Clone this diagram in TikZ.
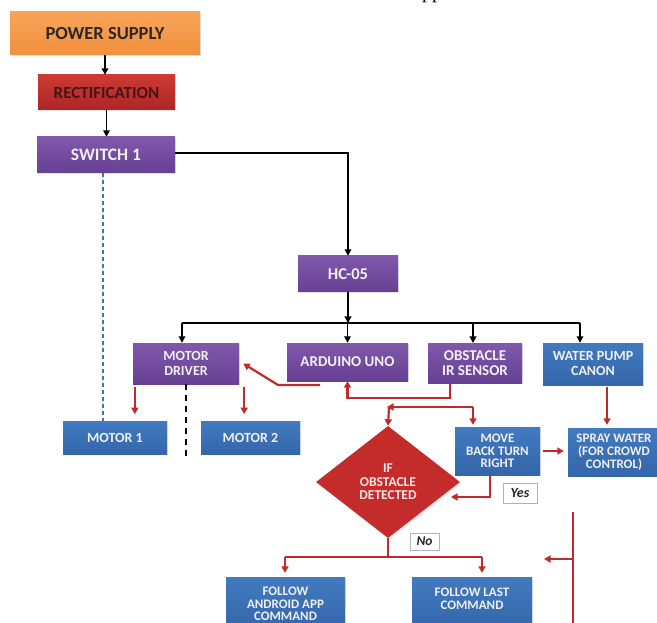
\documentclass[tikz,border=0pt]{standalone}
\usepackage{fontspec}
\setmainfont{Carlito}
\newfontfamily\ppserif{Liberation Serif}
\usetikzlibrary{arrows.meta,shapes.geometric,shadows}
\definecolor{cOrangeT}{RGB}{248,163,88}
\definecolor{cOrangeB}{RGB}{240,145,62}
\definecolor{cRedT}{RGB}{205,58,52}
\definecolor{cRedB}{RGB}{172,38,38}
\definecolor{cPurT}{RGB}{128,88,172}
\definecolor{cPurB}{RGB}{102,64,146}
\definecolor{cBluT}{RGB}{66,122,192}
\definecolor{cBluB}{RGB}{52,102,170}
\definecolor{cArrow}{RGB}{192,42,42}
\definecolor{cDia}{RGB}{196,44,44}
\definecolor{cDash}{RGB}{70,110,200}
\definecolor{cTxtDark}{RGB}{45,40,40}
\definecolor{cTxtMaroon}{RGB}{70,20,20}
\begin{document}
\begin{tikzpicture}[x=1pt,y=-1pt,
  fs/.style n args={2}{font=\bfseries\fontsize{#1}{#2}\selectfont},
  box/.style={rectangle, align=center, inner sep=0pt, fs={12}{13}, text=white!94!black,
    drop shadow={shadow xshift=1.2pt,shadow yshift=-1.4pt,opacity=0.22}},
  orangebox/.style={box, top color=cOrangeT, bottom color=cOrangeB, text=cTxtDark},
  redbox/.style={box, top color=cRedT, bottom color=cRedB, text=cTxtMaroon},
  purplebox/.style={box, top color=cPurT, bottom color=cPurB},
  bluebox/.style={box, top color=cBluT, bottom color=cBluB},
  labelbox/.style={rectangle, draw=black!30, line width=0.8pt, fill=white, inner sep=0pt,
    text=black!85},
  blkarrow/.style={line width=1.9pt, black, -{Triangle[length=6.5pt,width=6.5pt]}},
  blkline/.style={line width=1.9pt, black},
  redarrow/.style={line width=2.2pt, cArrow, -{Triangle[length=6.5pt,width=7pt]}},
  redline/.style={line width=2.2pt, cArrow}
]
\useasboundingbox (0,0) rectangle (657,623);
\fill[white] (0,0) rectangle (657,623);

\node[font=\ppserif\fontsize{20}{20}\selectfont, anchor=base] (pp) at (432,-1) {pp};

% top chain
\node[orangebox, fs={18.5}{20}, minimum width=190pt, minimum height=43pt] (ps) at (105,33.5) {POWER SUPPLY};
\node[redbox, fs={17}{18}, minimum width=137pt, minimum height=35pt] (rect) at (106.5,92.5) {RECTIFICATION};
\node[purplebox, fs={17.5}{18}, minimum width=138pt, minimum height=36pt] (sw) at (106,155) {SWITCH 1};
\node[purplebox, fs={16.5}{18}, minimum width=100pt, minimum height=36pt] (hc) at (348,274) {HC-05};

% second row
\node[purplebox, fs={14}{14.5}, minimum width=106pt, minimum height=41pt] (md) at (186,363.5) {MOTOR\\DRIVER};
\node[purplebox, fs={15}{16}, minimum width=121pt, minimum height=38pt] (ard) at (347.5,362) {ARDUINO UNO};
\node[purplebox, fs={15}{15}, minimum width=94pt, minimum height=40pt] (obs) at (475,363) {OBSTACLE\\IR SENSOR};
\node[bluebox, fs={14}{15}, minimum width=100pt, minimum height=42pt] (wp) at (593,364) {WATER PUMP\\CANON};

% motors
\node[bluebox, fs={14}{15}, minimum width=104pt, minimum height=33pt] (m1) at (115,437.5) {MOTOR 1};
\node[bluebox, fs={14}{15}, minimum width=99pt, minimum height=33pt] (m2) at (250.5,437.5) {MOTOR 2};

% decision area
\node[bluebox, fs={13}{12.5}, minimum width=85pt, minimum height=48pt] (mv) at (497.5,451) {MOVE\\BACK TURN\\RIGHT};
\node[bluebox, fs={13}{13}, minimum width=92pt, minimum height=48pt] (spray) at (614,452) {SPRAY WATER\\(FOR CROWD\\CONTROL)};
\node[diamond, minimum width=144pt, minimum height=112pt, inner sep=0pt, fill=cDia,
  align=center, fs={13.5}{13.5}, text=white!90!red,
  drop shadow={shadow xshift=1.2pt,shadow yshift=-1.4pt,opacity=0.2}] (dia) at (388,482) {IF\\OBSTACLE\\DETECTED};
\node[labelbox, font=\bfseries\itshape\fontsize{14}{15}\selectfont, minimum width=34pt, minimum height=20pt] (yes) at (520,493) {Yes};
\node[labelbox, font=\bfseries\itshape\fontsize{13.5}{15}\selectfont, minimum width=29pt, minimum height=17pt] (no) at (424.5,541.5) {No};

\node[bluebox, fs={13}{12.5}, minimum width=119pt, minimum height=54pt] (andr) at (285.5,604) {FOLLOW\\ANDROID APP\\COMMAND};
\node[bluebox, fs={13}{12.5}, minimum width=120pt, minimum height=54pt] (last) at (472,604) {FOLLOW LAST\\COMMAND\\[-6pt]\strut};

% black connectors
\draw[blkarrow] (ps.south) -- (ps.south |- rect.north);
\draw[blkarrow] (rect.south) -- (rect.south |- sw.north);
\draw[blkarrow] (sw.east |- 0,153) -| (hc.north);
\coordinate (busL) at (182,323);
\coordinate (busR) at (580,323);
\draw[blkarrow] (hc.south) -- (hc.south |- busL);
\draw[blkline] (busL) -- (busR);
\draw[blkarrow] (busL) -- (busL |- md.north);
\draw[blkarrow] (busL -| ard.north) -- (ard.north);
\draw[blkarrow] (busL -| 473,0) -- (473,343);
\draw[blkarrow] (busR) -- (busR |- wp.north);

% dashed lines
\draw[cDash, line width=1.3pt, dash pattern=on 4pt off 3pt] ([xshift=-3pt]sw.south) -- ([xshift=-12pt]m1.north);
\draw[black, line width=2.4pt, dash pattern=on 6pt off 5pt] (md.south) -- ++(0,72);

% red connectors
\draw[redarrow] (md.south west) ++(2,3) -- ++(0,27);
\draw[redarrow] (md.south east) ++(5,3) -- ++(0,27);
\coordinate (a1) at (320,385);
\coordinate (a2) at (278,385);
\draw[redarrow] (a1) -- (a2) -- ([xshift=4pt]md.east);
\draw[redarrow] ([xshift=-25pt]obs.south) -- ++(0,15) -| (ard.south);
\coordinate (j1) at (389,407);
\coordinate (j2) at (473,407);
\draw[redarrow] (j2) -- ([xshift=-2pt]j1);
\draw[redarrow] (j1) -- (dia.north);
\draw[redarrow] (j2) -- ([yshift=2pt]j2 |- mv.north);
\draw[redarrow] ([xshift=3pt]mv.east) -- ([xshift=-4pt]mv.east -| spray.west);
\coordinate (wpx) at (607,387);
\draw[redarrow] (wpx) -- ([yshift=3pt]wpx |- spray.north);
\coordinate (y1) at (490,497);
\coordinate (y2) at (451,497);
\draw[redarrow] (mv.south -| y1) -- (y1) -- (y2);
\coordinate (n1) at (388,557);
\coordinate (nL) at (285,557);
\coordinate (nR) at (482,557);
\draw[redline] (dia.south) -- (n1);
\draw[redline] (nL) -- (nR);
\draw[redarrow] (nL) -- ([yshift=4pt]nL |- andr.north);
\draw[redarrow] (nR) -- ([yshift=4pt]nR |- last.north);
\coordinate (v1) at (573,512);
\coordinate (v2) at (573,630);
\coordinate (v3) at (573,559);
\coordinate (v4) at (544,559);
\draw[redline] (v1) -- (v2);
\draw[redarrow] (v3) -- (v4);
\end{tikzpicture}
\end{document}
